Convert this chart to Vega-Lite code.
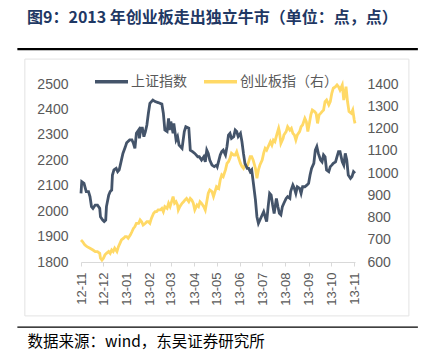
{
  "$schema": "https://vega.github.io/schema/vega-lite/v6.json",
  "width": 274,
  "height": 178,
  "autosize": {"type": "none"},
  "padding": {"left": 81, "top": 84, "right": 70, "bottom": 100},
  "background": "white",
  "config": {
    "view": {"stroke": null},
    "font": "Liberation Sans",
    "axisX": {
      "format": "%y-%m", "formatType": "utc", "labelAngle": -90, "labelFontSize": 13,
      "labelColor": "#595959", "domainColor": "#d9d9d9", "tickColor": "#d9d9d9", "tickSize": 4,
      "grid": false, "labelPadding": 6, "labelFlush": false, "labelOverlap": false, "labelBound": false,
      "tickCount": {"interval": "month", "step": 1},
      "titleX": -54, "titleY": 79, "titleAlign": "left", "titleBaseline": "middle", "titleAnchor": "start",
      "titleFont": "Noto Sans CJK SC", "titleFontSize": 15.5, "titleFontWeight": "normal", "titleColor": "#000000"
    },
    "axisY": {"grid": false, "domain": false, "ticks": false, "labelFontSize": 14, "labelColor": "#595959", "labelPadding": 13, "format": "d", "labelOverlap": false}
  },
  "title": {
    "text": "图9：2013 年创业板走出独立牛市（单位：点，点）",
    "anchor": "start", "frame": "group", "dx": -54, "offset": 22,
    "font": "Noto Sans CJK SC", "fontSize": 16, "fontWeight": "bold", "color": "#1f3864"
  },
  "datasets": {
    "sh": [
      {"d":"2012-11-01","v":2070},{"d":"2012-11-02","v":2116},{"d":"2012-11-05","v":2109},{"d":"2012-11-08","v":2077},
      {"d":"2012-11-11","v":2077},{"d":"2012-11-13","v":2057},{"d":"2012-11-15","v":2018},{"d":"2012-11-17","v":2011},
      {"d":"2012-11-20","v":2024},{"d":"2012-11-23","v":2024},{"d":"2012-11-26","v":2011},{"d":"2012-11-27","v":1978},
      {"d":"2012-11-30","v":1965},{"d":"2012-12-02","v":1959},{"d":"2012-12-04","v":1965},{"d":"2012-12-05","v":2018},
      {"d":"2012-12-08","v":2063},{"d":"2012-12-10","v":2077},{"d":"2012-12-12","v":2083},{"d":"2012-12-13","v":2142},
      {"d":"2012-12-15","v":2162},{"d":"2012-12-18","v":2168},{"d":"2012-12-20","v":2155},{"d":"2012-12-22","v":2162},
      {"d":"2012-12-24","v":2188},{"d":"2012-12-27","v":2227},{"d":"2012-12-30","v":2251},{"d":"2013-01-01","v":2269},
      {"d":"2013-01-05","v":2280},{"d":"2013-01-08","v":2280},{"d":"2013-01-10","v":2267},{"d":"2013-01-12","v":2247},
      {"d":"2013-01-14","v":2306},{"d":"2013-01-17","v":2319},{"d":"2013-01-18","v":2286},{"d":"2013-01-20","v":2326},
      {"d":"2013-01-22","v":2326},{"d":"2013-01-24","v":2293},{"d":"2013-01-26","v":2313},{"d":"2013-01-28","v":2339},
      {"d":"2013-01-30","v":2385},{"d":"2013-02-01","v":2424},{"d":"2013-02-05","v":2437},{"d":"2013-02-08","v":2431},
      {"d":"2013-02-12","v":2427},{"d":"2013-02-17","v":2421},{"d":"2013-02-19","v":2385},{"d":"2013-02-21","v":2319},
      {"d":"2013-02-24","v":2313},{"d":"2013-02-26","v":2365},{"d":"2013-02-27","v":2319},{"d":"2013-03-01","v":2352},
      {"d":"2013-03-04","v":2306},{"d":"2013-03-05","v":2345},{"d":"2013-03-08","v":2280},{"d":"2013-03-10","v":2293},
      {"d":"2013-03-12","v":2260},{"d":"2013-03-16","v":2247},{"d":"2013-03-19","v":2313},{"d":"2013-03-21","v":2332},
      {"d":"2013-03-25","v":2326},{"d":"2013-03-27","v":2240},{"d":"2013-03-30","v":2234},{"d":"2013-04-02","v":2227},
      {"d":"2013-04-06","v":2214},{"d":"2013-04-08","v":2214},{"d":"2013-04-11","v":2201},{"d":"2013-04-14","v":2214},
      {"d":"2013-04-16","v":2194},{"d":"2013-04-18","v":2240},{"d":"2013-04-20","v":2227},{"d":"2013-04-22","v":2201},
      {"d":"2013-04-25","v":2181},{"d":"2013-04-28","v":2175},{"d":"2013-05-01","v":2181},{"d":"2013-05-02","v":2175},
      {"d":"2013-05-06","v":2221},{"d":"2013-05-08","v":2234},{"d":"2013-05-10","v":2240},{"d":"2013-05-13","v":2221},
      {"d":"2013-05-15","v":2254},{"d":"2013-05-17","v":2299},{"d":"2013-05-19","v":2306},{"d":"2013-05-21","v":2286},
      {"d":"2013-05-24","v":2293},{"d":"2013-05-26","v":2319},{"d":"2013-05-28","v":2313},{"d":"2013-05-30","v":2293},
      {"d":"2013-06-02","v":2306},{"d":"2013-06-04","v":2273},{"d":"2013-06-06","v":2227},{"d":"2013-06-08","v":2188},
      {"d":"2013-06-11","v":2168},{"d":"2013-06-13","v":2168},{"d":"2013-06-15","v":2155},{"d":"2013-06-17","v":2162},
      {"d":"2013-06-19","v":2116},{"d":"2013-06-22","v":2044},{"d":"2013-06-24","v":1978},{"d":"2013-06-26","v":1952},
      {"d":"2013-06-28","v":1965},{"d":"2013-07-01","v":1985},{"d":"2013-07-03","v":1998},{"d":"2013-07-05","v":1978},
      {"d":"2013-07-07","v":1959},{"d":"2013-07-09","v":2018},{"d":"2013-07-11","v":2070},{"d":"2013-07-13","v":2063},
      {"d":"2013-07-15","v":2024},{"d":"2013-07-17","v":1991},{"d":"2013-07-20","v":2050},{"d":"2013-07-22","v":2018},
      {"d":"2013-07-24","v":1991},{"d":"2013-07-26","v":1985},{"d":"2013-07-28","v":2018},{"d":"2013-07-30","v":2031},
      {"d":"2013-08-02","v":2050},{"d":"2013-08-04","v":2057},{"d":"2013-08-07","v":2050},{"d":"2013-08-08","v":2077},
      {"d":"2013-08-11","v":2103},{"d":"2013-08-13","v":2090},{"d":"2013-08-15","v":2070},{"d":"2013-08-17","v":2096},
      {"d":"2013-08-20","v":2090},{"d":"2013-08-22","v":2070},{"d":"2013-08-24","v":2096},{"d":"2013-08-27","v":2096},
      {"d":"2013-08-30","v":2103},{"d":"2013-09-01","v":2109},{"d":"2013-09-03","v":2142},{"d":"2013-09-05","v":2168},
      {"d":"2013-09-08","v":2188},{"d":"2013-09-10","v":2240},{"d":"2013-09-12","v":2254},{"d":"2013-09-14","v":2227},
      {"d":"2013-09-17","v":2201},{"d":"2013-09-19","v":2194},{"d":"2013-09-21","v":2221},{"d":"2013-09-23","v":2214},
      {"d":"2013-09-25","v":2162},{"d":"2013-09-28","v":2155},{"d":"2013-09-30","v":2175},{"d":"2013-10-02","v":2181},
      {"d":"2013-10-04","v":2188},{"d":"2013-10-07","v":2194},{"d":"2013-10-09","v":2214},{"d":"2013-10-11","v":2234},
      {"d":"2013-10-13","v":2234},{"d":"2013-10-16","v":2194},{"d":"2013-10-18","v":2181},{"d":"2013-10-20","v":2227},
      {"d":"2013-10-22","v":2201},{"d":"2013-10-24","v":2142},{"d":"2013-10-27","v":2129},{"d":"2013-10-29","v":2136},
      {"d":"2013-10-31","v":2155},{"d":"2013-11-02","v":2149}
    ],
    "cy": [
      {"d":"2012-11-01","v":699},{"d":"2012-11-03","v":692},{"d":"2012-11-06","v":677},{"d":"2012-11-09","v":669},
      {"d":"2012-11-13","v":662},{"d":"2012-11-17","v":654},{"d":"2012-11-20","v":647},{"d":"2012-11-23","v":647},
      {"d":"2012-11-26","v":639},{"d":"2012-11-27","v":617},{"d":"2012-11-29","v":609},{"d":"2012-12-01","v":617},
      {"d":"2012-12-03","v":632},{"d":"2012-12-05","v":639},{"d":"2012-12-08","v":647},{"d":"2012-12-10","v":639},
      {"d":"2012-12-12","v":654},{"d":"2012-12-14","v":647},{"d":"2012-12-16","v":662},{"d":"2012-12-19","v":647},
      {"d":"2012-12-21","v":669},{"d":"2012-12-23","v":684},{"d":"2012-12-25","v":699},{"d":"2012-12-28","v":707},
      {"d":"2012-12-30","v":714},{"d":"2013-01-01","v":714},{"d":"2013-01-03","v":707},{"d":"2013-01-06","v":722},
      {"d":"2013-01-08","v":736},{"d":"2013-01-10","v":751},{"d":"2013-01-12","v":759},{"d":"2013-01-14","v":774},
      {"d":"2013-01-17","v":774},{"d":"2013-01-19","v":789},{"d":"2013-01-21","v":781},{"d":"2013-01-23","v":766},
      {"d":"2013-01-26","v":774},{"d":"2013-01-28","v":781},{"d":"2013-01-30","v":781},{"d":"2013-02-01","v":774},
      {"d":"2013-02-03","v":796},{"d":"2013-02-06","v":819},{"d":"2013-02-08","v":826},{"d":"2013-02-10","v":826},
      {"d":"2013-02-12","v":834},{"d":"2013-02-15","v":834},{"d":"2013-02-17","v":841},{"d":"2013-02-19","v":826},
      {"d":"2013-02-21","v":849},{"d":"2013-02-24","v":841},{"d":"2013-02-26","v":864},{"d":"2013-02-28","v":849},
      {"d":"2013-03-02","v":871},{"d":"2013-03-04","v":894},{"d":"2013-03-06","v":864},{"d":"2013-03-08","v":871},
      {"d":"2013-03-10","v":856},{"d":"2013-03-11","v":834},{"d":"2013-03-13","v":849},{"d":"2013-03-16","v":864},
      {"d":"2013-03-18","v":871},{"d":"2013-03-20","v":879},{"d":"2013-03-22","v":886},{"d":"2013-03-25","v":871},
      {"d":"2013-03-27","v":886},{"d":"2013-03-29","v":879},{"d":"2013-03-31","v":864},{"d":"2013-04-02","v":834},
      {"d":"2013-04-05","v":856},{"d":"2013-04-07","v":849},{"d":"2013-04-09","v":871},{"d":"2013-04-11","v":864},
      {"d":"2013-04-14","v":849},{"d":"2013-04-16","v":834},{"d":"2013-04-18","v":871},{"d":"2013-04-20","v":909},
      {"d":"2013-04-22","v":924},{"d":"2013-04-25","v":916},{"d":"2013-04-27","v":894},{"d":"2013-04-29","v":916},
      {"d":"2013-05-01","v":939},{"d":"2013-05-04","v":931},{"d":"2013-05-06","v":969},{"d":"2013-05-08","v":991},
      {"d":"2013-05-10","v":984},{"d":"2013-05-13","v":1014},{"d":"2013-05-15","v":1043},{"d":"2013-05-17","v":1051},
      {"d":"2013-05-19","v":1066},{"d":"2013-05-21","v":1089},{"d":"2013-05-24","v":1081},{"d":"2013-05-26","v":1081},
      {"d":"2013-05-28","v":1096},{"d":"2013-05-30","v":1074},{"d":"2013-06-02","v":1043},{"d":"2013-06-04","v":1029},
      {"d":"2013-06-06","v":1021},{"d":"2013-06-08","v":1036},{"d":"2013-06-11","v":1029},{"d":"2013-06-13","v":1051},
      {"d":"2013-06-15","v":1074},{"d":"2013-06-17","v":1074},{"d":"2013-06-19","v":1058},{"d":"2013-06-22","v":1021},
      {"d":"2013-06-24","v":976},{"d":"2013-06-26","v":1014},{"d":"2013-06-28","v":1036},{"d":"2013-07-01","v":1058},
      {"d":"2013-07-03","v":1089},{"d":"2013-07-05","v":1111},{"d":"2013-07-07","v":1103},{"d":"2013-07-09","v":1118},
      {"d":"2013-07-12","v":1141},{"d":"2013-07-14","v":1126},{"d":"2013-07-16","v":1148},{"d":"2013-07-18","v":1141},
      {"d":"2013-07-21","v":1178},{"d":"2013-07-23","v":1201},{"d":"2013-07-24","v":1186},{"d":"2013-07-26","v":1133},
      {"d":"2013-07-29","v":1156},{"d":"2013-07-30","v":1171},{"d":"2013-08-02","v":1186},{"d":"2013-08-04","v":1208},
      {"d":"2013-08-07","v":1193},{"d":"2013-08-09","v":1201},{"d":"2013-08-11","v":1178},{"d":"2013-08-13","v":1171},
      {"d":"2013-08-15","v":1148},{"d":"2013-08-17","v":1171},{"d":"2013-08-20","v":1186},{"d":"2013-08-22","v":1208},
      {"d":"2013-08-24","v":1216},{"d":"2013-08-27","v":1246},{"d":"2013-08-29","v":1231},{"d":"2013-08-31","v":1186},
      {"d":"2013-09-02","v":1223},{"d":"2013-09-04","v":1261},{"d":"2013-09-06","v":1283},{"d":"2013-09-09","v":1276},
      {"d":"2013-09-11","v":1268},{"d":"2013-09-13","v":1223},{"d":"2013-09-15","v":1261},{"d":"2013-09-17","v":1268},
      {"d":"2013-09-19","v":1276},{"d":"2013-09-21","v":1283},{"d":"2013-09-23","v":1321},{"d":"2013-09-25","v":1328},
      {"d":"2013-09-28","v":1306},{"d":"2013-09-30","v":1321},{"d":"2013-10-02","v":1358},{"d":"2013-10-04","v":1381},
      {"d":"2013-10-07","v":1388},{"d":"2013-10-09","v":1396},{"d":"2013-10-11","v":1388},{"d":"2013-10-13","v":1373},
      {"d":"2013-10-16","v":1396},{"d":"2013-10-18","v":1328},{"d":"2013-10-20","v":1366},{"d":"2013-10-21","v":1388},
      {"d":"2013-10-23","v":1321},{"d":"2013-10-25","v":1276},{"d":"2013-10-28","v":1268},{"d":"2013-10-30","v":1283},
      {"d":"2013-11-01","v":1238},{"d":"2013-11-02","v":1223}
    ]
  },
  "layer": [
    {
      "data": {"name": "cy"},
      "mark": {"type": "line", "strokeWidth": 2.8},
      "encoding": {
        "x": {"field": "d", "type": "temporal", "title": "数据来源：wind，东吴证券研究所",
              "scale": {"type": "utc", "domain": [{"year": 2012, "month": 11, "date": 1, "utc": true}, {"year": 2013, "month": 11, "date": 2, "utc": true}], "nice": false}},
        "y": {"field": "v", "type": "quantitative", "title": null,
              "scale": {"domain": [600, 1400], "nice": false, "zero": false},
              "axis": {"orient": "right", "values": [600, 700, 800, 900, 1000, 1100, 1200, 1300, 1400], "labelPadding": 12, "format": "d"}},
        "color": {"datum": "创业板指（右）", "type": "nominal",
                  "scale": {"domain": ["上证指数", "创业板指（右）"], "range": ["#44546A", "#FFD966"]},
                  "legend": {"orient": "none", "legendX": 12, "legendY": -21, "direction": "horizontal", "title": null,
                             "symbolType": "stroke", "symbolSize": 1089, "symbolStrokeWidth": 3.5,
                             "labelFont": "Noto Sans CJK SC", "labelFontSize": 14, "labelColor": "#595959",
                             "columnPadding": 10, "labelOffset": 1}}
      }
    },
    {
      "layer": [
        {
          "data": {"values": [{}]},
          "mark": {"type": "rect", "fill": "transparent", "stroke": "#e3e3e3", "strokeWidth": 1},
          "encoding": {
            "x": {"datum": {"year": 2012, "month": 8, "date": 18, "utc": true}, "type": "temporal", "title": "数据来源：wind，东吴证券研究所"},
            "x2": {"datum": {"year": 2014, "month": 1, "date": 13, "utc": true}},
            "y": {"datum": 2598, "type": "quantitative", "title": null,
                  "axis": {"orient": "left", "values": [1800, 1900, 2000, 2100, 2200, 2300, 2400, 2500], "format": "d"}},
            "y2": {"datum": 1588}
          }
        },
        {
          "data": {"values": [{}]},
          "mark": {"type": "rule", "color": "#000000", "strokeWidth": 2.2},
          "encoding": {
            "x": {"datum": {"year": 2012, "month": 8, "date": 8, "utc": true}, "type": "temporal", "title": "数据来源：wind，东吴证券研究所"},
            "x2": {"datum": {"year": 2014, "month": 1, "date": 25, "utc": true}},
            "y": {"datum": 2637, "type": "quantitative", "title": null,
                  "axis": {"orient": "left", "values": [1800, 1900, 2000, 2100, 2200, 2300, 2400, 2500], "format": "d"}}
          }
        },
        {
          "data": {"values": [{}]},
          "mark": {"type": "rule", "color": "#000000", "strokeWidth": 1.3},
          "encoding": {
            "x": {"datum": {"year": 2012, "month": 8, "date": 8, "utc": true}, "type": "temporal", "title": "数据来源：wind，东吴证券研究所"},
            "x2": {"datum": {"year": 2014, "month": 1, "date": 25, "utc": true}},
            "y": {"datum": 1544, "type": "quantitative", "title": null,
                  "axis": {"orient": "left", "values": [1800, 1900, 2000, 2100, 2200, 2300, 2400, 2500], "format": "d"}}
          }
        },
        {
          "data": {"name": "sh"},
          "mark": {"type": "line", "strokeWidth": 2.8},
          "encoding": {
            "x": {"field": "d", "type": "temporal", "title": "数据来源：wind，东吴证券研究所"},
            "y": {"field": "v", "type": "quantitative", "title": null,
                  "scale": {"domain": [1800, 2500], "nice": false, "zero": false},
                  "axis": {"orient": "left", "values": [1800, 1900, 2000, 2100, 2200, 2300, 2400, 2500], "format": "d"}},
            "color": {"datum": "上证指数", "type": "nominal"}
          }
        }
      ]
    }
  ],
  "resolve": {"scale": {"y": "independent"}}
}
